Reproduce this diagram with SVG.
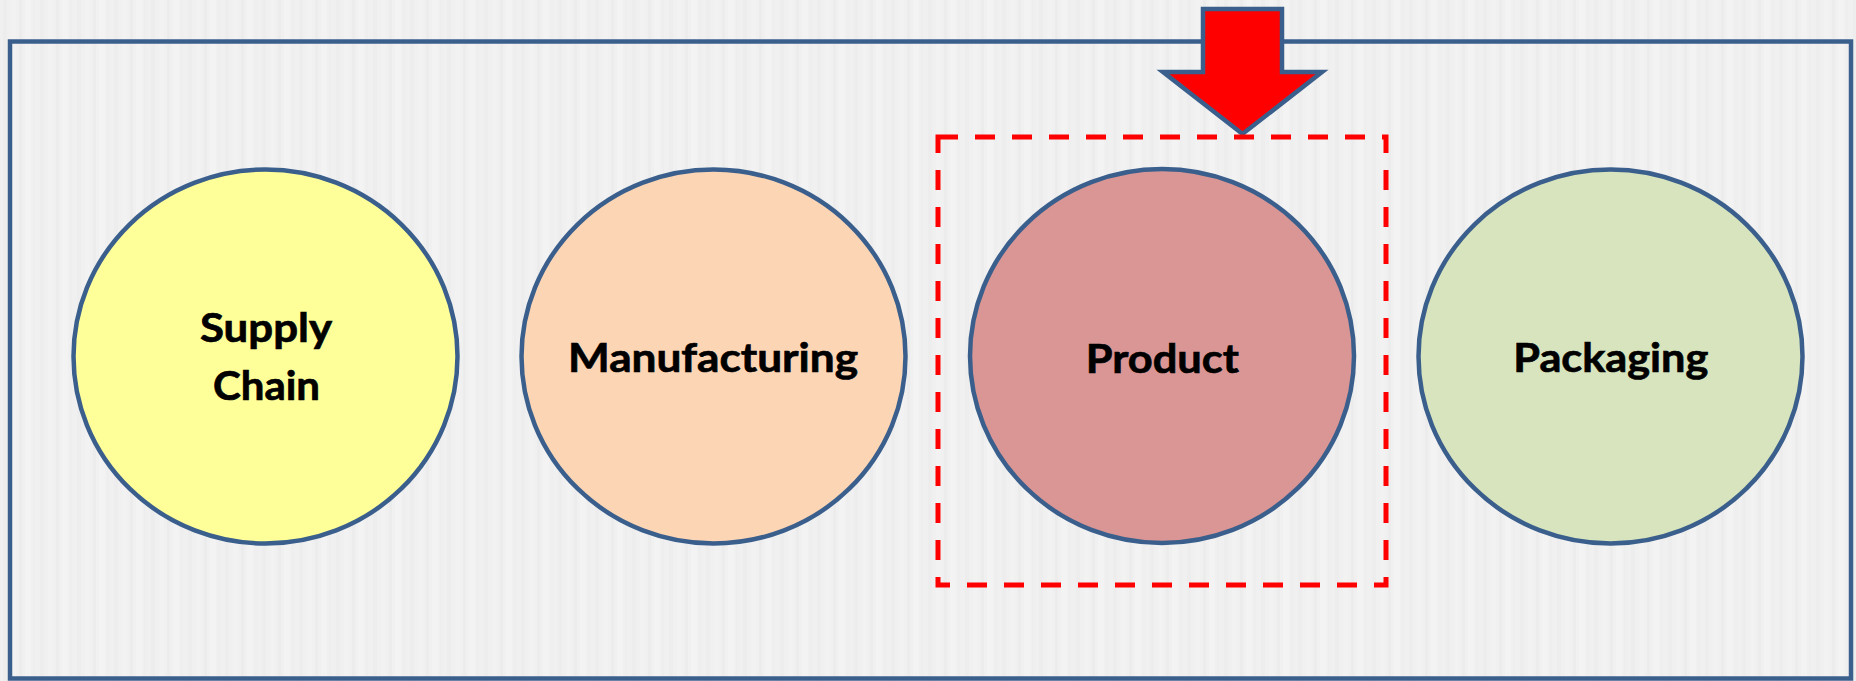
<svg xmlns="http://www.w3.org/2000/svg" width="1856" height="681" viewBox="0 0 1856 681">
  <style>
    .node ellipse { stroke: #3b5f8c; stroke-width: 4.5; }
    .label { font-family: "Lato", "Liberation Sans", sans-serif; font-weight: bold; font-size: 41px; fill: #000000; stroke: #000000; stroke-width: 0.7; text-anchor: middle; }
    .frame { fill: none; stroke: #3b5f8c; stroke-width: 4.5; }
    .focus { fill: none; stroke: #ff0000; stroke-width: 5; stroke-dasharray: 20 17; }
    .pointer { fill: #ff0000; stroke: #3b5f8c; stroke-width: 4.5; stroke-linejoin: miter; }
  </style>
  <defs>
    <pattern id="stripes" x="0" y="0" width="37" height="681" patternUnits="userSpaceOnUse">
      <rect x="0" y="0" width="37" height="681" fill="#f0f0f0"/>
      <rect x="3" y="0" width="4" height="681" fill="#ededed"/>
      <rect x="11" y="0" width="5" height="681" fill="#f2f2f2"/>
      <rect x="19" y="0" width="3" height="681" fill="#ececec"/>
      <rect x="25" y="0" width="6" height="681" fill="#f3f3f3"/>
      <rect x="33" y="0" width="2" height="681" fill="#eeeeee"/>
    </pattern>
  </defs>

  <rect id="background" x="0" y="0" width="1856" height="681" fill="url(#stripes)"/>

  <g id="frame">
    <rect class="frame" x="10" y="41.5" width="1841" height="637"/>
  </g>

  <g id="node-supply-chain" class="node">
    <ellipse cx="265.5" cy="356.5" rx="192" ry="187" fill="#ffff99"/>
    <text class="label" x="266" y="342" textLength="132" lengthAdjust="spacingAndGlyphs">Supply</text>
    <text class="label" x="266.5" y="400" textLength="107" lengthAdjust="spacingAndGlyphs">Chain</text>
  </g>

  <g id="node-manufacturing" class="node">
    <ellipse cx="713.5" cy="356.5" rx="192" ry="187" fill="#fcd5b5"/>
    <text class="label" x="713" y="372" textLength="290" lengthAdjust="spacingAndGlyphs">Manufacturing</text>
  </g>

  <g id="node-product" class="node">
    <ellipse cx="1162" cy="356" rx="192" ry="187" fill="#d99694"/>
    <text class="label" x="1162.3" y="372.5" textLength="153" lengthAdjust="spacingAndGlyphs">Product</text>
  </g>

  <g id="node-packaging" class="node">
    <ellipse cx="1610.5" cy="356.5" rx="192" ry="187" fill="#d7e4bd"/>
    <text class="label" x="1610.8" y="372" textLength="195" lengthAdjust="spacingAndGlyphs">Packaging</text>
  </g>

  <g id="connectors">
    <polygon id="pointer-arrow" class="pointer" points="1203,9 1282,9 1282,72 1322,72 1242.5,134 1163,72 1203,72"/>
    <rect id="focus-box" class="focus" x="938" y="137" width="448" height="448"/>
  </g>
</svg>
